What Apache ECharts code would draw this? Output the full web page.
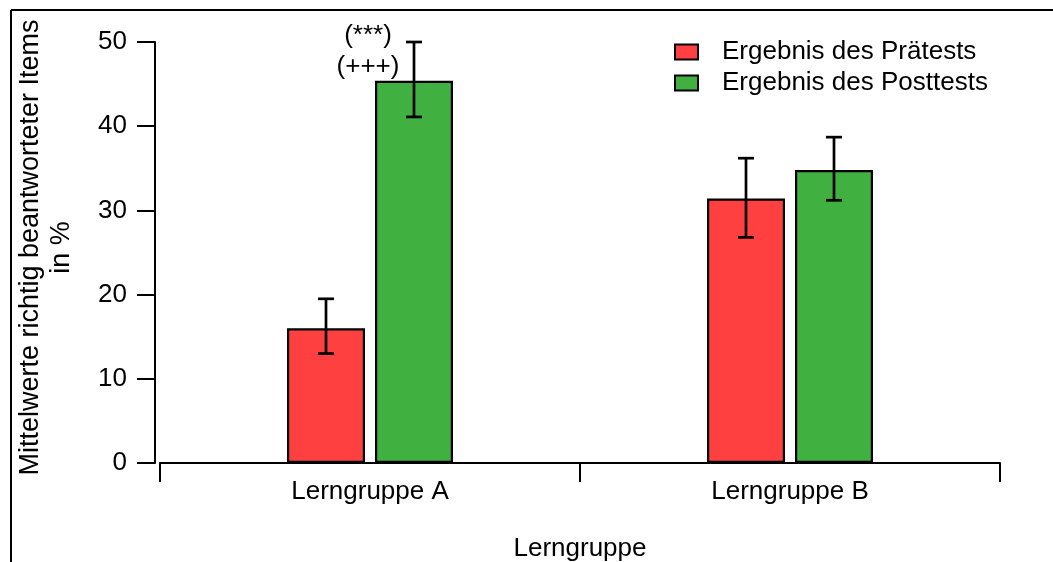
<!DOCTYPE html>
<html>
<head>
<meta charset="utf-8">
<script src="https://cdn.jsdelivr.net/npm/echarts@6/dist/echarts.min.js"></script>
<style>
html,body{margin:0;padding:0;background:#fff;}
#main{width:1053px;height:562px;}
</style>
</head>
<body>
<div id="main"></div>
<script>
// ---- data ----
var categories = ['Lerngruppe A', 'Lerngruppe B'];
var seriesNames = ['Ergebnis des Prätests', 'Ergebnis des Posttests'];
var preValues = [16.0, 31.4];
var postValues = [45.4, 34.8];
var preErrLow = [13.0, 26.8];
var preErrHigh = [19.5, 36.2];
var postErrLow = [41.1, 31.2];
var postErrHigh = [50.0, 38.7];
var yTicks = [0, 10, 20, 30, 40, 50];
var annotations = [{cat: 0, value: 50, text: '(***)\n(+++)'}];

var FONT = '"Liberation Sans", Arial, sans-serif';
var RED = '#FF4040';
var GREEN = '#40B040';

var chart = echarts.init(document.getElementById('main'), null, {renderer: 'canvas'});

function errData(low, high) {
  return categories.map(function (c, i) { return [i, low[i], high[i]]; });
}

function errRenderer(offsetPx) {
  return function (params, api) {
    var x = api.coord([api.value(0), 0])[0] + offsetPx;
    var yl = api.coord([api.value(0), api.value(1)])[1];
    var yh = api.coord([api.value(0), api.value(2)])[1];
    var cap = 8;
    var style = {stroke: '#000', lineWidth: 2.7};
    return {
      type: 'group',
      children: [
        {type: 'line', shape: {x1: x, y1: yl, x2: x, y2: yh}, style: style},
        {type: 'line', shape: {x1: x - cap, y1: yl, x2: x + cap, y2: yl}, style: style},
        {type: 'line', shape: {x1: x - cap, y1: yh, x2: x + cap, y2: yh}, style: style}
      ]
    };
  };
}

var option = {
  backgroundColor: '#fff',
  animation: false,
  textStyle: {fontFamily: FONT},
  grid: {left: 160, top: 42, width: 840, height: 421, containLabel: false, outerBoundsMode: 'none'},
  legend: {
    left: 674, top: 39, orient: 'vertical', padding: 0,
    itemWidth: 23, itemHeight: 15, itemGap: 5,
    icon: 'rect',
    textStyle: {fontSize: 26, color: '#000', fontFamily: FONT, padding: [0, 0, 0, 19]},
    data: seriesNames
  },
  xAxis: {
    type: 'category',
    data: categories,
    offset: 3,
    axisLine: {show: true, lineStyle: {color: '#000', width: 2}},
    axisTick: {show: true, length: 19, lineStyle: {color: '#000', width: 2}},
    axisLabel: {fontSize: 26, color: '#000', margin: 13, fontFamily: FONT},
    name: 'Lerngruppe',
    nameLocation: 'middle',
    nameGap: 70,
    nameTextStyle: {fontSize: 26, color: '#000', fontFamily: FONT}
  },
  yAxis: {
    type: 'value',
    min: 0, max: 50, interval: 10,
    offset: 5,
    splitLine: {show: false},
    axisLine: {show: true, lineStyle: {color: '#000', width: 2}},
    axisTick: {show: true, length: 18, lineStyle: {color: '#000', width: 2}},
    axisLabel: {fontSize: 26, color: '#000', margin: 28, fontFamily: FONT,
      formatter: function (v) { return yTicks.indexOf(v) >= 0 ? String(v) : ''; }},
    name: 'Mittelwerte richtig beantworteter Items\nin %',
    nameLocation: 'middle',
    nameGap: 78,
    nameTextStyle: {fontSize: 27, color: '#000', lineHeight: 31, fontFamily: FONT, padding: [0, 0, 0, 10]}
  },
  series: [
    {
      name: seriesNames[0], type: 'bar', data: preValues,
      barWidth: 78, barGap: '12.8%',
      itemStyle: {color: RED, borderColor: '#000', borderWidth: 2.2}
    },
    {
      name: seriesNames[1], type: 'bar', data: postValues,
      barWidth: 78, barGap: '12.8%',
      itemStyle: {color: GREEN, borderColor: '#000', borderWidth: 2.2}
    },
    {
      type: 'custom', data: errData(preErrLow, preErrHigh),
      renderItem: errRenderer(-44), z: 10, silent: true, clip: false
    },
    {
      type: 'custom', data: errData(postErrLow, postErrHigh),
      renderItem: errRenderer(44), z: 10, silent: true, clip: false
    },
    {
      type: 'custom', silent: true, clip: false, z: 10,
      data: annotations.map(function (a) { return [a.cat, a.value, a.text]; }),
      renderItem: function (params, api) {
        var p = api.coord([api.value(0), api.value(1)]);
        return {
          type: 'text',
          x: p[0] - 2, y: p[1] + 9,
          style: {
            text: annotations[params.dataIndex].text,
            fontSize: 26, fontFamily: FONT, fill: '#000',
            align: 'center', verticalAlign: 'middle', lineHeight: 31
          }
        };
      }
    }
  ],
  graphic: [
    {type: 'line', shape: {x1: 11, y1: 10, x2: 1053, y2: 10}, style: {stroke: '#000', lineWidth: 2}},
    {type: 'line', shape: {x1: 11, y1: 10, x2: 11, y2: 562}, style: {stroke: '#000', lineWidth: 2}}
  ]
};
chart.setOption(option);
</script>
</body>
</html>
